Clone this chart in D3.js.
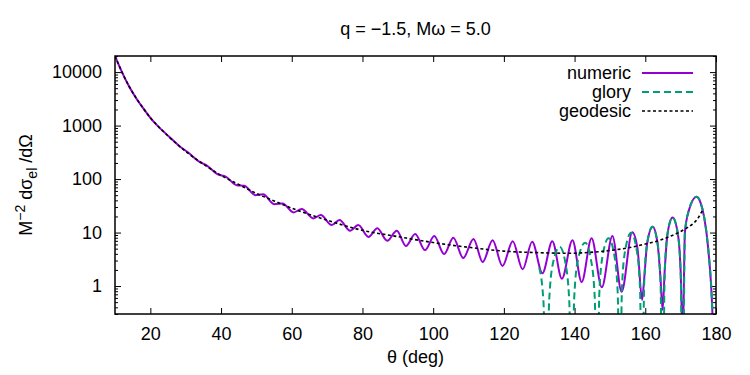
<!DOCTYPE html>
<html>
<head>
<meta charset="utf-8">
<script src="https://cdn.jsdelivr.net/npm/d3@7"></script>
<style>
  body { margin: 0; background: #fff; }
  svg { display: block; font-family: 'Liberation Sans', Arial, sans-serif; }
</style>
</head>
<body>
<svg id="viz" width="750" height="375"></svg>
<script>
// values (theta in deg, M^-2 dsigma/dOmega)
const numTheta = [10, 12, 14, 16, 18, 20, 22, 25.4, 28.5, 30.7, 33.8, 36.0, 39.1, 41.3, 44.4, 46.6,
  49.7, 51.9, 55.0, 57.4, 60.5, 62.8, 66.1, 68.2, 71.3, 73.5, 76.5, 78.8, 81.7, 84.2, 87.0, 89.7,
  92.3, 94.9, 97.7, 100.3, 103.1, 105.7, 108.5, 111.4, 114.0, 116.8, 119.6, 122.5, 125.3, 128.0,
  130.9, 133.7, 136.4, 139.4, 142.0, 144.8, 147.7, 150.7, 153.3, 156.3, 157.8, 159.1, 159.7, 160.55,
  162.1, 163.45, 164.3, 164.9, 165.5, 166.3, 167.7, 169.2, 170.0, 170.6, 171.2, 172.3, 174.5, 175.6,
  176.7, 177.8, 179.0, 180];
const numValue = [20000, 9900, 5400, 3250, 2100, 1400, 1000, 613, 399, 313, 212, 179, 122, 111, 77, 75,
  50, 52, 34, 35, 23.8, 27.5, 18.4, 21.2, 13.8, 17.1, 10.8, 13.8, 8.3, 12.0, 7.0, 10.8,
  5.6, 9.4, 4.7, 8.6, 3.96, 8.0, 3.33, 7.6, 2.81, 7.2, 2.37, 6.9, 2.05, 6.7,
  1.73, 6.9, 1.37, 7.2, 1.19, 7.8, 0.95, 8.6, 0.78, 10.1, 5.0, 0.55, 1.4, 6.4,
  12.8, 6.4, 1.4, 0.36, 2.0, 9.6, 19.2, 9.6, 1.9, 0.1, 9.9, 25.7, 46.8, 36.8,
  18.6, 5.0, 0.3, 0.001];

const gloryTheta = [130, 131.2, 132.1, 132.8, 133.9, 135.8, 137.4, 138.5, 139.2, 139.9, 141.0, 143.0,
  144.6, 145.7, 146.4, 147.0, 148.0, 149.6, 151.2, 152.2, 152.8, 153.4, 154.4, 156.0, 157.5, 158.5,
  159.1, 159.7, 160.55, 162.0, 163.45, 164.3, 164.9, 165.5, 166.3, 167.75, 169.2, 170.0, 170.6,
  171.2, 172.3, 174.5, 175.6, 176.7, 177.8, 179.0, 180];
const gloryValue = [2.2, 0.5, 0.003, 0.51, 2.7, 5.4, 2.7, 0.51, 0.003, 0.61, 3.2, 6.45,
  3.2, 0.61, 0.003, 0.74, 3.9, 7.8, 3.9, 0.74, 0.003, 0.94, 5.0, 9.9, 5.0, 0.94,
  0.003, 1.2, 6.4, 12.8, 6.4, 1.2, 0.003, 1.8, 9.6, 19.2, 9.6, 1.8, 0.003,
  9.9, 25.7, 46.8, 36.8, 18.6, 5.0, 0.3, 0.001];

const geoTheta = [10, 12, 14, 16, 18, 20, 22, 25, 30, 35, 40, 45, 50, 55, 60, 65, 70, 80, 90, 100,
  110, 120, 130, 138, 147, 152, 156.6, 160, 164.2, 167, 169.8, 172, 173.6, 175, 176.4];
const geoValue = [20000, 9900, 5400, 3250, 2100, 1400, 1000, 640, 330, 190, 117, 79, 54, 39, 28.5, 21.8,
  17, 11, 8.4, 6.5, 5.3, 4.5, 4.2, 4.1, 4.4, 4.8, 5.4, 6.1, 7.2, 8.5, 10.3, 12.5, 14.8, 19, 28];

const xTicks = [20, 40, 60, 80, 100, 120, 140, 160, 180];
const yTicks = [1, 10, 100, 1000, 10000];
const seriesNames = ['numeric', 'glory', 'geodesic'];

const margin = { left: 115, right: 34, top: 56, bottom: 61 };
const width = 750 - margin.left - margin.right;
const height = 375 - margin.top - margin.bottom;

var svg = d3.select('#viz');
var g = svg.append('g').attr('transform', 'translate(' + margin.left + ',' + margin.top + ')');

var x = d3.scaleLinear().domain([10, 180]).range([0, width]);
var y = d3.scaleLog().domain([0.3, 20000]).range([height, 0]);

g.append('clipPath').attr('id', 'clip')
  .append('rect').attr('width', width).attr('height', height);

// axes (ticks inward, mirrored)
var styleAxis = (sel) => {
  sel.select('.domain').remove();
  sel.selectAll('line').attr('stroke', '#000').attr('stroke-width', 1);
  sel.selectAll('text').style('font-size', '18px').attr('fill', '#000');
};

g.append('g').attr('transform', 'translate(0,' + height + ')')
  .call(d3.axisBottom(x).tickValues(xTicks).tickSize(-6).tickPadding(13))
  .call(styleAxis);
g.append('g')
  .call(d3.axisTop(x).tickValues(xTicks).tickSize(-6).tickFormat(''))
  .call(styleAxis);

var minor = y.ticks().filter((d) => yTicks.indexOf(d) < 0);
g.append('g')
  .call(d3.axisLeft(y).tickValues(yTicks).tickSize(-6).tickPadding(13).tickFormat(d3.format('d')))
  .call(styleAxis);
g.append('g')
  .call(d3.axisLeft(y).tickValues(minor).tickSize(-3).tickFormat(''))
  .call(styleAxis);
g.append('g').attr('transform', 'translate(' + width + ',0)')
  .call(d3.axisRight(y).tickValues(yTicks).tickSize(-6).tickFormat(''))
  .call(styleAxis);
g.append('g').attr('transform', 'translate(' + width + ',0)')
  .call(d3.axisRight(y).tickValues(minor).tickSize(-3).tickFormat(''))
  .call(styleAxis);

var line = d3.line()
  .x((d) => x(d[0]))
  .y((d) => y(d[1]))
  .curve(d3.curveMonotoneX);

var plot = g.append('g').attr('clip-path', 'url(#clip)');

plot.append('path')
  .datum(d3.zip(numTheta, numValue))
  .attr('d', line)
  .attr('fill', 'none')
  .attr('stroke', '#9400d3')
  .attr('stroke-width', 2);

plot.append('path')
  .datum(d3.zip(gloryTheta, gloryValue))
  .attr('d', line)
  .attr('fill', 'none')
  .attr('stroke', '#009e73')
  .attr('stroke-width', 2)
  .attr('stroke-dasharray', '7,4');

plot.append('path')
  .datum(d3.zip(geoTheta, geoValue))
  .attr('d', line)
  .attr('fill', 'none')
  .attr('stroke', '#000')
  .attr('stroke-width', 1.6)
  .attr('stroke-dasharray', '3,2.5');

// frame
g.append('rect')
  .attr('width', width)
  .attr('height', height)
  .attr('fill', 'none')
  .attr('stroke', '#000')
  .attr('stroke-width', 1.5);

// legend
var legendStyle = [
  { color: '#9400d3', dash: null, w: 2 },
  { color: '#009e73', dash: '7,4', w: 2 },
  { color: '#000', dash: '3,2.5', w: 1.6 },
];
seriesNames.forEach((name, i) => {
  var cy = 73 + i * 19;
  svg.append('text')
    .attr('x', 631)
    .attr('y', cy + 6)
    .attr('text-anchor', 'end')
    .style('font-size', '18px')
    .text(name);
  svg.append('line')
    .attr('x1', 642)
    .attr('x2', 693)
    .attr('y1', cy)
    .attr('y2', cy)
    .attr('stroke', legendStyle[i].color)
    .attr('stroke-width', legendStyle[i].w)
    .attr('stroke-dasharray', legendStyle[i].dash);
});

// title
svg.append('text')
  .attr('x', margin.left + width / 2)
  .attr('y', 35)
  .attr('text-anchor', 'middle')
  .style('font-size', '18px')
  .text('q = \u22121.5, M\u03c9 = 5.0');

// x label
svg.append('text')
  .attr('x', margin.left + width / 2)
  .attr('y', 363)
  .attr('text-anchor', 'middle')
  .style('font-size', '18px')
  .text('\u03b8 (deg)');

// y label
var yl = svg.append('text')
  .attr('transform', 'translate(32,185)rotate(-90)')
  .attr('text-anchor', 'middle')
  .style('font-size', '18px');
yl.append('tspan').text('M');
yl.append('tspan').attr('dy', -7).style('font-size', '14px').text('\u22122');
yl.append('tspan').attr('dy', 7).text(' d\u03c3');
yl.append('tspan').attr('dy', 5).style('font-size', '14px').text('el');
yl.append('tspan').attr('dy', -5).text(' /d\u03a9');
</script>
</body>
</html>
